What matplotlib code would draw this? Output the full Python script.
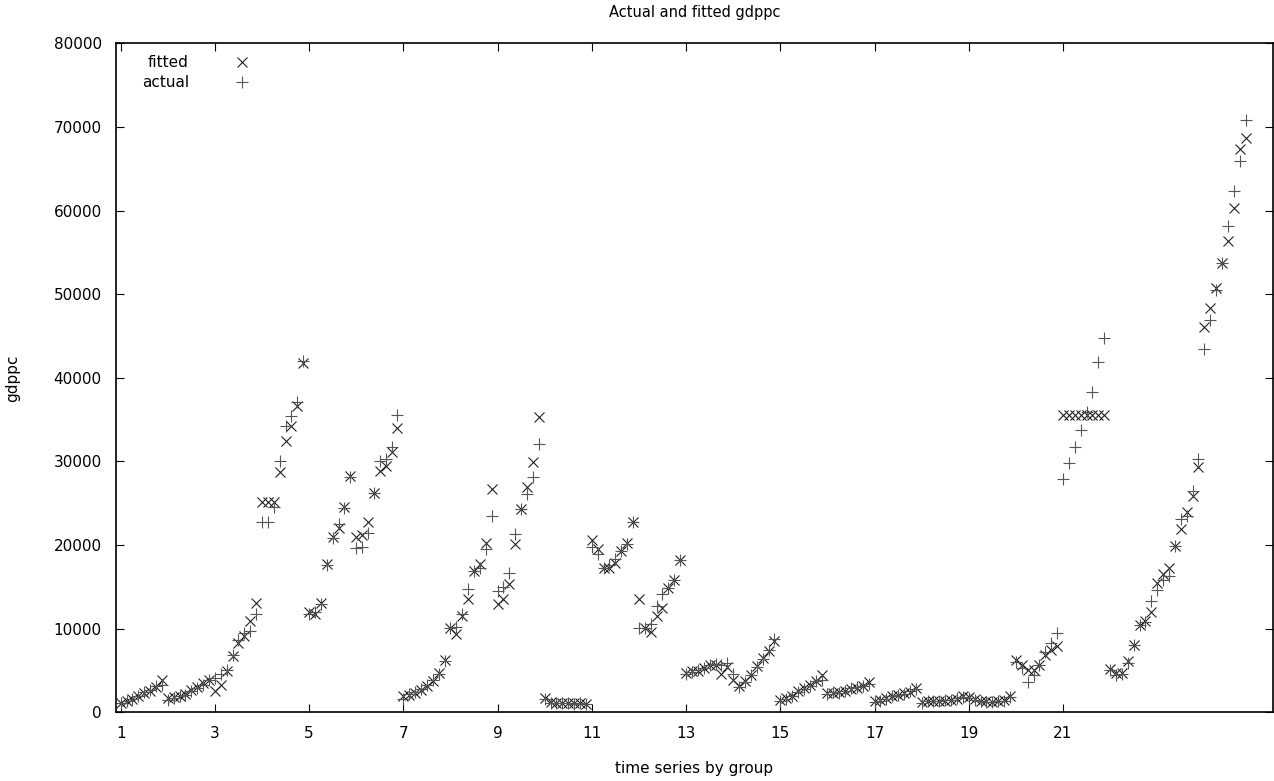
import numpy as np
import matplotlib
matplotlib.use("Agg")
import matplotlib.pyplot as plt

# 24 groups x 8 periods, one row per group
fitted = [
    1100, 1400, 1600, 1900, 2300, 2600, 3000, 3800,
    1700, 1800, 1900, 2200, 2700, 3000, 3500, 3900,
    2500, 3300, 4900, 6700, 8300, 9100, 10900, 13100,
    25100, 25100, 25100, 28700, 32400, 34200, 36600, 41800,
    12000, 11700, 13100, 17700, 20900, 22000, 24600, 28200,
    20900, 21200, 22800, 26200, 28900, 29500, 31100, 34000,
    2000, 2100, 2300, 2700, 3100, 3700, 4700, 6300,
    10100, 9400, 11500, 13500, 16900, 17700, 20300, 26700,
    13000, 13500, 15300, 20100, 24300, 26900, 29900, 35300,
    1700, 1200, 1100, 1100, 1100, 1100, 1100, 1000,
    20600, 19500, 17200, 17300, 17900, 19300, 20300, 22800,
    13500, 10100, 9600, 11500, 12500, 14900, 15800, 18200,
    4700, 4900, 4900, 5300, 5700, 5700, 4600, 5400,
    3900, 3100, 3700, 4500, 5500, 6500, 7300, 8500,
    1500, 1700, 2000, 2500, 2900, 3300, 3700, 4500,
    2300, 2300, 2400, 2600, 2800, 2900, 3100, 3600,
    1300, 1500, 1700, 1900, 2100, 2300, 2400, 2900,
    1200, 1300, 1300, 1400, 1400, 1500, 1600, 1900,
    1800, 1600, 1400, 1300, 1200, 1300, 1500, 1900,
    6300, 5700, 5100, 5100, 5700, 6900, 7500, 7900,
    35500, 35500, 35500, 35500, 35500, 35500, 35500, 35500,
    5200, 4700, 4700, 6100, 8100, 10400, 10900, 12000,
    15500, 16500, 17300, 19900, 21900, 23900, 25900, 29300,
    46100, 48300, 50700, 53700, 56300, 60300, 67300, 68700,
]
actual = [
    1100, 1400, 1600, 1900, 2400, 2700, 3100, 3300,
    1500, 1700, 1900, 2100, 2600, 2900, 3300, 3800,
    4100, 4600, 5000, 6800, 8600, 9500, 9700, 11700,
    22700, 22800, 24500, 30100, 34200, 35400, 37100, 42000,
    11800, 12000, 13000, 17600, 20800, 22500, 24400, 28100,
    19600, 19800, 21400, 26200, 30100, 30300, 31700, 35600,
    1600, 2200, 2400, 2800, 3300, 3900, 4600, 6100,
    10100, 10200, 11700, 14700, 16900, 17200, 19500, 23500,
    14500, 15000, 16700, 21300, 24300, 26100, 28100, 32100,
    1600, 1100, 1100, 1100, 1100, 1000, 1100, 1000,
    19800, 18900, 17200, 17600, 18300, 19300, 20100, 22800,
    10100, 10100, 10600, 12700, 14100, 14900, 15800, 18200,
    4600, 4800, 5000, 5300, 5600, 5800, 5700, 5900,
    4600, 3000, 3600, 4400, 5400, 6400, 7500, 8800,
    1400, 1600, 1900, 2400, 2800, 3200, 3700, 3800,
    2200, 2400, 2300, 2500, 2900, 3000, 3200, 3400,
    1200, 1400, 1600, 2000, 2100, 2200, 2500, 2800,
    1100, 1300, 1400, 1300, 1500, 1500, 1700, 1800,
    1700, 1500, 1300, 1200, 1200, 1300, 1400, 1800,
    6000, 5300, 3600, 4400, 5600, 7200, 8300, 9500,
    27900, 29800, 31700, 33700, 35900, 38300, 41900, 44700,
    5000, 4400, 4600, 5900, 8100, 10400, 10800, 13300,
    14600, 15800, 16300, 19900, 23100, 23500, 26500, 30300,
    43500, 46900, 50500, 53700, 58100, 62300, 65900, 70800,
]
periods = 8
xtick_labels = [1, 3, 5, 7, 9, 11, 13, 15, 17, 19, 21]

plt.rcParams['font.family'] = ['DejaVu Sans']

obs = np.arange(len(fitted))
x = 1 + obs / periods

fig = plt.figure(figsize=(12.74, 7.81), dpi=100)
ax = fig.add_axes([0.0908, 0.088, 0.9085, 0.8566])

ax.plot(x, fitted, linestyle='none', marker='x', markersize=7, markeredgewidth=0.8,
        color='#222222', label='fitted')
ax.plot(x, actual, linestyle='none', marker='+', markersize=9, markeredgewidth=0.8,
        color='#555555', label='actual')

ax.set_xlim(0.894, 25.46)
ax.set_ylim(0, 80000)
ax.set_xticks(xtick_labels)
ax.set_xticklabels([str(v) for v in xtick_labels])
ax.set_yticks(np.arange(0, 80001, 10000))
ax.tick_params(direction='in', length=6, width=0.8, top=True, right=True,
               labelsize=11, pad=10)
for s in ax.spines.values():
    s.set_linewidth(1.2)

ax.set_title('Actual and fitted gdppc', fontsize=10.5, pad=19)
ax.set_xlabel('time series by group', fontsize=11, labelpad=14)
ax.set_ylabel('gdppc', fontsize=11, labelpad=24)

leg = ax.legend(loc='upper left', bbox_to_anchor=(0.016, 0.994), markerfirst=False,
                frameon=False, fontsize=11, handlelength=1.2, handletextpad=2.9,
                labelspacing=0.35, borderaxespad=0.2, borderpad=0.3)

fig.savefig('out.png', dpi=100)
